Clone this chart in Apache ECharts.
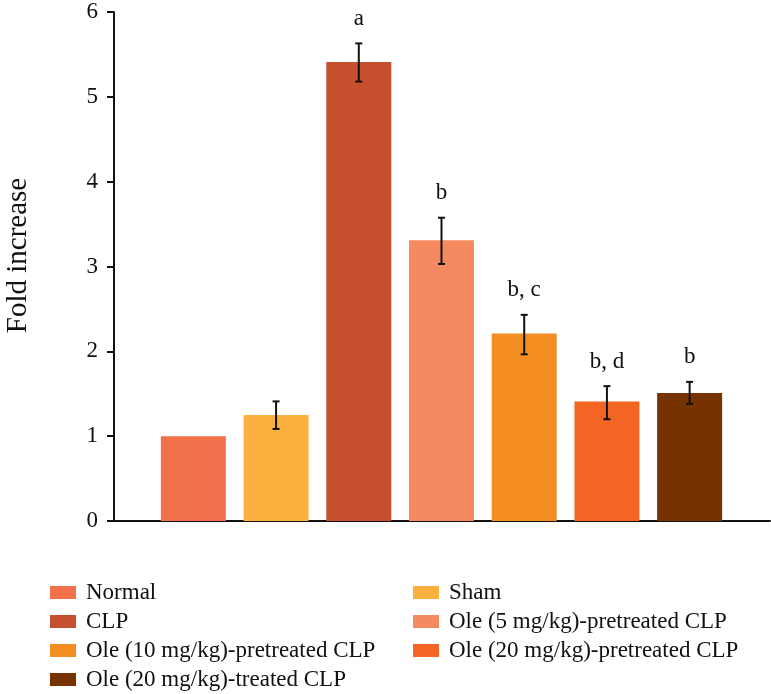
<!DOCTYPE html>
<html>
<head>
<meta charset="utf-8">
<script src="https://cdn.jsdelivr.net/npm/echarts@6/dist/echarts.min.js"></script>
<style>html,body{margin:0;padding:0;background:#fff}#c{width:771px;height:694px}</style>
</head>
<body>
<div id="c"></div>
<script>
const categories = ['Normal', 'Sham', 'CLP', 'Ole (5 mg/kg)-pretreated CLP', 'Ole (10 mg/kg)-pretreated CLP', 'Ole (20 mg/kg)-pretreated CLP', 'Ole (20 mg/kg)-treated CLP'];
const values = [1.00, 1.25, 5.41, 3.31, 2.21, 1.41, 1.51];
const errLow = [null, 1.085, 5.18, 3.03, 1.965, 1.20, 1.38];
const errHigh = [null, 1.41, 5.63, 3.575, 2.43, 1.59, 1.64];
const sigLabels = ['', '', 'a', 'b', 'b, c', 'b, d', 'b'];
const colors = ['#F2714B', '#FBB040', '#C6502E', '#F58A60', '#F48E22', '#F26522', '#763200'];
const yTicks = [0, 1, 2, 3, 4, 5, 6];

const FONT = '"Liberation Serif", "DejaVu Serif", serif';

const barSeries = categories.map((name, i) => ({
  name: name,
  type: 'bar',
  xAxisIndex: 0,
  yAxisIndex: 0,
  barWidth: 65,
  barGap: '-100%',
  itemStyle: { color: colors[i] },
  data: values.map((v, j) => (j === i ? v : '-')),
  animation: false
}));

const errData = categories.map((c, i) => [i, errLow[i], errHigh[i], sigLabels[i]]);

const errSeries = {
  type: 'custom',
  xAxisIndex: 0,
  yAxisIndex: 0,
  animation: false,
  silent: true,
  data: errData,
  z: 10,
  renderItem: function (params, api) {
    const idx = params.dataIndex;
    const d = errData[idx];
    const children = [];
    const x = api.coord([idx, 0])[0];
    let topY;
    if (d[1] != null && d[2] != null) {
      const lo = api.coord([idx, d[1]])[1];
      const hi = api.coord([idx, d[2]])[1];
      topY = hi;
      const cw = 3.5;
      const st = { stroke: '#111', lineWidth: 2 };
      children.push({ type: 'line', shape: { x1: x, y1: lo, x2: x, y2: hi }, style: st });
      children.push({ type: 'line', shape: { x1: x - cw, y1: lo, x2: x + cw, y2: lo }, style: st });
      children.push({ type: 'line', shape: { x1: x - cw, y1: hi, x2: x + cw, y2: hi }, style: st });
    } else {
      topY = api.coord([idx, values[idx]])[1];
    }
    if (d[3]) {
      children.push({
        type: 'text',
        style: {
          text: d[3], x: x, y: topY - 13,
          align: 'center', verticalAlign: 'bottom',
          font: '23px ' + FONT, fill: '#111'
        }
      });
    }
    return { type: 'group', children: children };
  }
};

const chart = echarts.init(document.getElementById('c'), null, { renderer: 'canvas' });
chart.setOption({
  backgroundColor: '#fff',
  animation: false,
  grid: [
    { left: 152, right: 40, top: 12, bottom: 173, outerBoundsMode: 'none', containLabel: false },
    { left: 114, right: 1, top: 12, bottom: 173, outerBoundsMode: 'none', containLabel: false }
  ],
  xAxis: [
    { type: 'category', gridIndex: 0, data: categories, boundaryGap: true, show: false },
    { type: 'value', gridIndex: 1, min: 0, max: 1,
      axisLine: { show: true, lineStyle: { color: '#111', width: 2 } },
      axisTick: { show: false }, axisLabel: { show: false }, splitLine: { show: false } }
  ],
  yAxis: [
    { type: 'value', gridIndex: 0, min: 0, max: 6, interval: 1, show: false },
    { type: 'value', gridIndex: 1, min: yTicks[0], max: yTicks[yTicks.length - 1], interval: 1,
      name: 'Fold increase', nameLocation: 'middle', nameGap: 81,
      nameTextStyle: { fontFamily: FONT, fontSize: 29, color: '#111', padding: [0, 0, 0, 22] },
      axisLine: { show: true, lineStyle: { color: '#111', width: 2 } },
      axisTick: { show: true, inside: false, length: 7, lineStyle: { color: '#111', width: 2 } },
      axisLabel: { fontFamily: FONT, fontSize: 23, color: '#111', margin: 16 },
      splitLine: { show: false } }
  ],
  legend: [
    { orient: 'vertical', left: 45, top: 576, height: 300, itemWidth: 26, itemHeight: 13, itemGap: 6,
      icon: 'rect', selectedMode: false,
      data: [categories[0], categories[2], categories[4], categories[6]],
      textStyle: { fontFamily: FONT, fontSize: 23, color: '#111', lineHeight: 23, padding: [0, 0, 0, 5] } },
    { orient: 'vertical', left: 408, top: 576, height: 300, itemWidth: 26, itemHeight: 13, itemGap: 6,
      icon: 'rect', selectedMode: false,
      data: [categories[1], categories[3], categories[5]],
      textStyle: { fontFamily: FONT, fontSize: 23, color: '#111', lineHeight: 23, padding: [0, 0, 0, 5] } }
  ],
  series: barSeries.concat([errSeries])
});
</script>
</body>
</html>
